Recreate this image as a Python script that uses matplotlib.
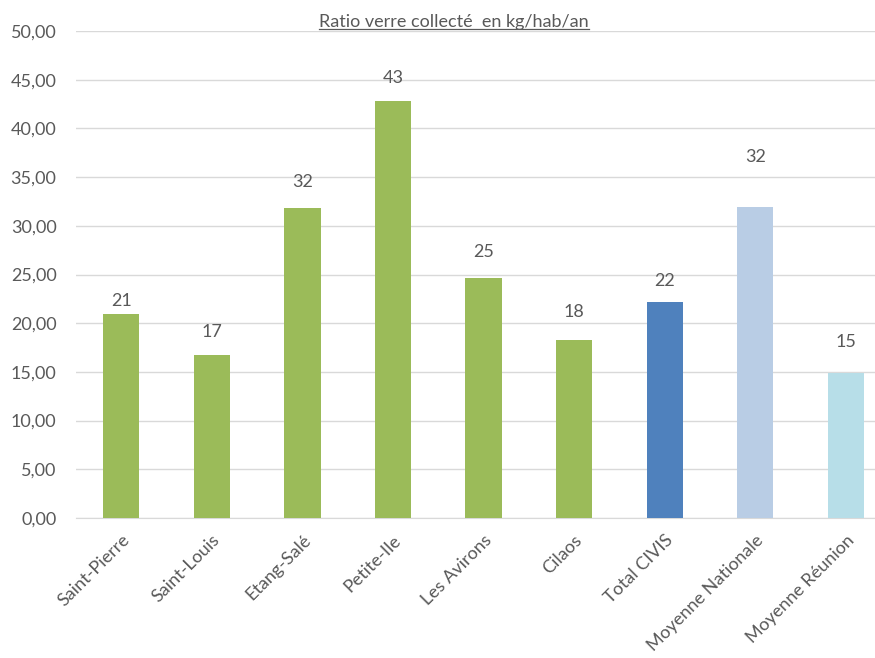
import numpy as np
import matplotlib
matplotlib.use("Agg")
import matplotlib.pyplot as plt
from matplotlib.ticker import FuncFormatter, MultipleLocator
from matplotlib.lines import Line2D

# data
communes = ["Saint-Pierre", "Saint-Louis", "Etang-Salé", "Petite-Ile", "Les Avirons",
            "Cilaos", "Total CIVIS", "Moyenne Nationale", "Moyenne Réunion"]
ratio = [20.9, 16.7, 31.8, 42.8, 24.6, 18.3, 22.2, 31.9, 14.9]
labels = ["21", "17", "32", "43", "25", "18", "22", "32", "15"]
title = "Ratio verre collecté  en kg/hab/an"

# styling
colors = ["#9BBB59"] * 6 + ["#4F81BD", "#B9CDE5", "#B7DEE8"]
label_offset = [9.5, 17, 19, 17, 19, 20, 15, 36, 22]  # points above bar top (label centre), as in the original
text_col = "#595959"
grid_col = "#D9D9D9"

plt.rcParams['font.family'] = ['Lato', 'DejaVu Sans']

fig = plt.figure(figsize=(8.75, 6.58), dpi=100)
ax = fig.add_axes([76 / 875, 1 - 518 / 658, 815 / 875, 487 / 658])

x = np.arange(len(communes))
bars = ax.bar(x, ratio, width=0.4, color=colors, zorder=3)

for b, lab, off in zip(bars, labels, label_offset):
    ax.annotate(lab, (b.get_x() + b.get_width() / 2, b.get_height()),
                xytext=(0, off), textcoords="offset points",
                ha="center", va="center", fontsize=13, color=text_col)

ax.set_xlim(-0.5, len(communes) - 0.5)
ax.set_ylim(0, 50)
ax.yaxis.set_major_locator(MultipleLocator(5))
ax.yaxis.set_major_formatter(FuncFormatter(lambda v, p: f"{v:.2f}".replace(".", ",")))
ax.grid(axis="y", color=grid_col, linewidth=1, zorder=0)
ax.set_axisbelow(True)
for s in ["top", "right", "left"]:
    ax.spines[s].set_visible(False)
ax.spines["bottom"].set_color(grid_col)

ax.set_xticks(x)
ax.set_xticklabels(communes, rotation=45, ha="right", rotation_mode="anchor",
                   fontsize=13, color=text_col)
ax.tick_params(axis="both", length=0)
ax.tick_params(axis="y", labelsize=13, labelcolor=text_col, pad=14)
ax.tick_params(axis="x", pad=10)

t = fig.text(454 / 875, 1 - 22 / 658, title, ha="center", va="center",
             fontsize=13, color=text_col)

# underline the title
fig.canvas.draw()
bb = t.get_window_extent().transformed(fig.transFigure.inverted())
fig.add_artist(Line2D([bb.x0, bb.x1], [bb.y0 + 0.002, bb.y0 + 0.002],
                      transform=fig.transFigure, color=text_col, linewidth=0.9))

fig.savefig("out.png", dpi=100)
